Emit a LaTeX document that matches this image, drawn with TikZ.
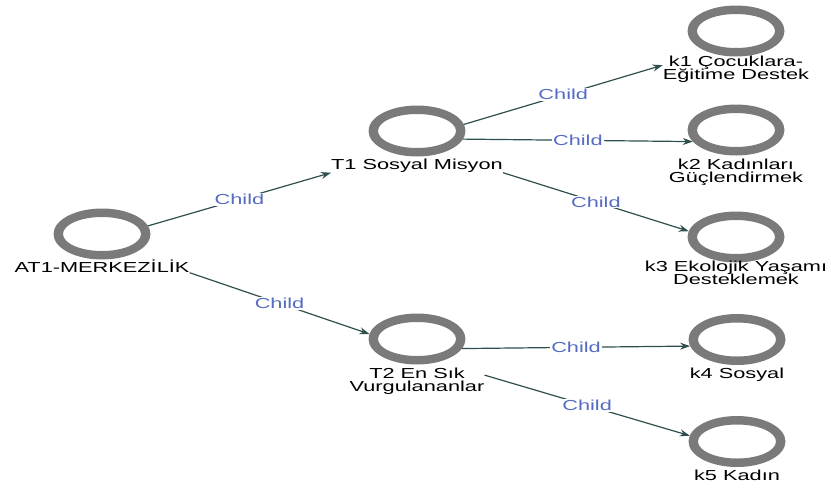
\documentclass[tikz,border=0pt]{standalone}
\usepackage{fontspec}
\setmainfont{Liberation Sans}[FakeStretch=1.5]
\usetikzlibrary{shapes.geometric, arrows.meta}
\definecolor{anelcinza}{RGB}{122,122,122}
\definecolor{arestaverde}{RGB}{47,79,79}
\definecolor{rotuloazul}{RGB}{86,108,196}
% fonte dos rotulos, com linhas bem juntas
\newcommand{\fontenome}{\fontsize{14.5}{13.5}\selectfont\lineskiplimit-20pt\relax}

\begin{document}
\begin{tikzpicture}[x=1pt, y=-1pt, >={Stealth[length=10pt, width=7pt]},
    anel/.style={ellipse, minimum width=97pt, minimum height=51pt, inner sep=0pt, outer sep=0pt},
    nome/.style={anchor=base, align=center, inner sep=0pt, font=\fontenome},
    aresta/.style={->, draw=arestaverde, line width=1.2pt},
    filho/.style={midway, fill=white, inner sep=1pt, text=rotuloazul, font=\fontsize{14.5}{15}\selectfont}]

            % Moldura da figura (831 x 488)
            \useasboundingbox (0,0) rectangle (831,488);

            % --- Nos (aneis) ---
            \node[anel] (at1) at (102,234) {};
            \node[anel] (t1) at (417,131) {};
            \node[anel] (t2) at (417,339) {};
            \node[anel] (k1) at (736,31) {};
            \node[anel] (k2) at (736,130) {};
            \node[anel] (k3) at (736,237) {};
            \node[anel] (k4) at (737,339.5) {};
            \node[anel] (k5) at (737,441.5) {};

            % Aneis cinzas (coroa eliptica)
            \foreach \n in {at1, t1, t2, k1, k2, k3, k4, k5}
                \fill[anelcinza, even odd rule] (\n) ellipse [x radius=48.5, y radius=25.5]
                    (\n) ellipse [x radius=39, y radius=17];

            % --- Rotulos dos nos (base = ultima linha) ---
            \node[nome] (at1l) at (102,272.5) {AT1-MERKEZİLİK};
            \node[nome] (t1l) at (417,169.5) {T1 Sosyal Misyon};
            \node[nome] (t2l) at (417,391.5) {T2 En Sık\\Vurgulananlar};
            \node[nome] (k1l) at (736,79.5) {k1 Çocuklara-\\Eğitime Destek};
            \node[nome] (k2l) at (736,182.5) {k2 Kadınları\\Güçlendirmek};
            \node[nome] (k3l) at (736,284.5) {k3 Ekolojik Yaşamı\\Desteklemek};
            \node[nome] (k4l) at (737,378) {k4 Sosyal};
            \node[nome] (k5l) at (737,480) {k5 Kadın};

            % --- Arestas ---
            \draw[aresta] (at1.10) -- (t1l.south west) node[filho] {Child};
            \draw[aresta] (at1l.south east) -- (t2.174) node[filho] {Child};

            \draw[aresta] (t1.8) -- (k1l.177) node[filho] {Child};
            \draw[aresta] (t1.-10) -- (k2.195) node[filho] {Child};
            \draw[aresta] (t1l.south east) -- (k3.173) node[filho] {Child};

            \draw[aresta] (t2.-12) -- (k4.188) node[filho] {Child};
            \draw[aresta] (t2l.5) -- (k5.173) node[filho] {Child};

        \end{tikzpicture}
\end{document}
